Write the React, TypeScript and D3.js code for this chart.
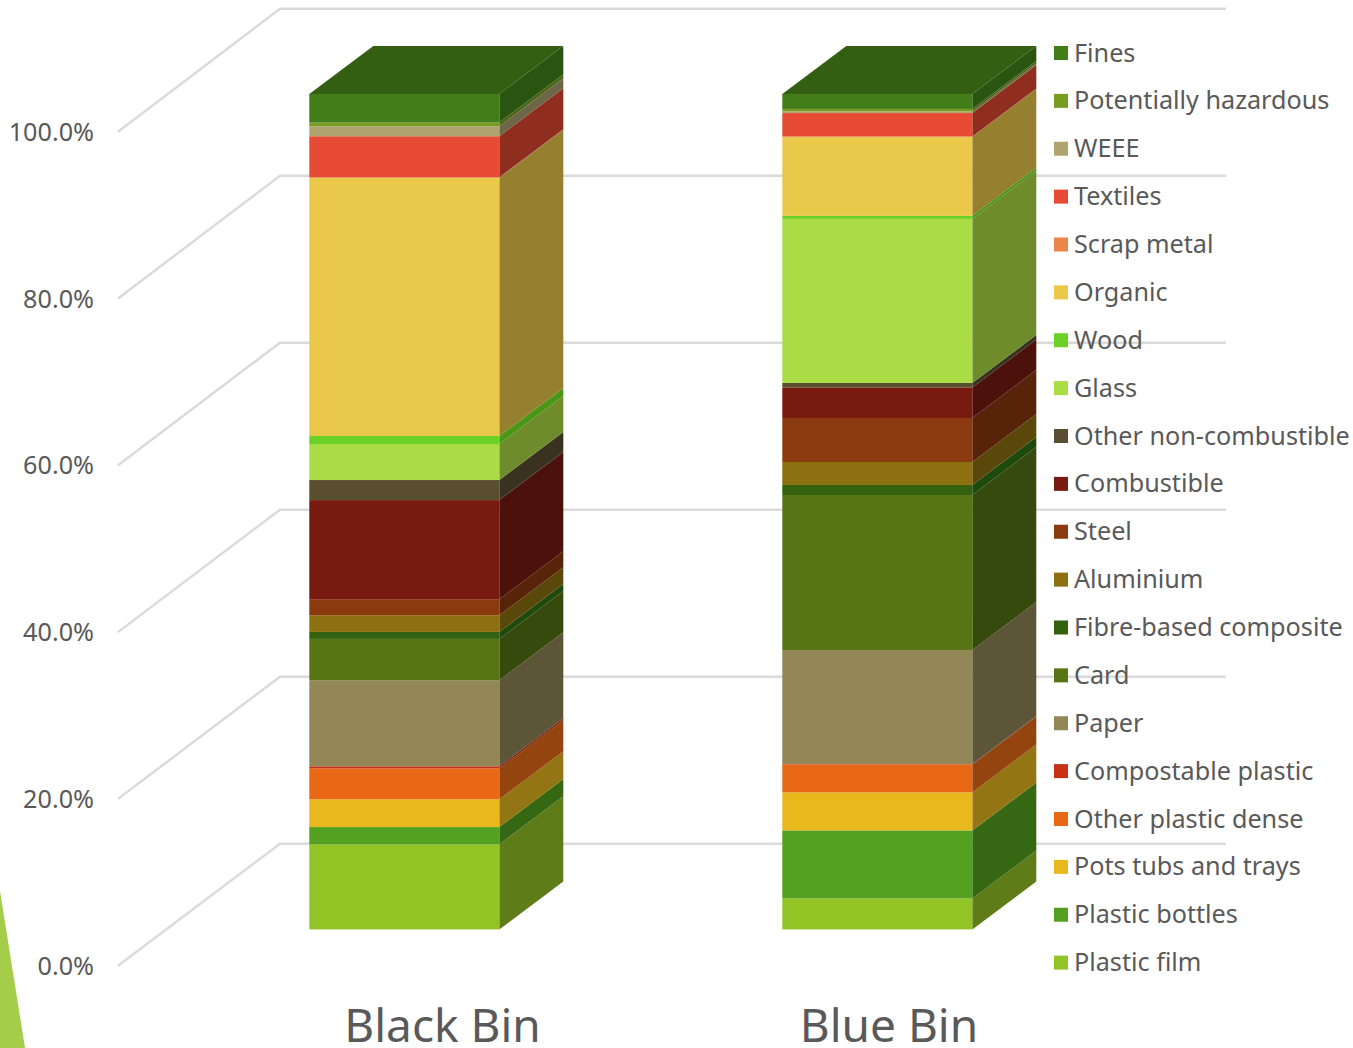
import React from "react";
import * as d3 from "d3";

const categories = ["Black Bin", "Blue Bin"];
const seriesNames = ["Plastic film","Plastic bottles","Pots tubs and trays","Other plastic dense","Compostable plastic","Paper","Card","Fibre-based composite","Aluminium","Steel","Combustible","Other non-combustible","Glass","Wood","Organic","Scrap metal","Textiles","WEEE","Potentially hazardous","Fines"];
const blackBin = [10.18,2.07,3.32,3.71,0.24,10.3,4.95,0.84,2.0,1.92,11.86,2.4,4.31,0.96,30.9,0.07,4.91,1.2,0.44,3.42];
const blueBin = [3.71,8.14,4.55,3.35,0.04,13.65,18.56,1.2,2.75,5.27,3.65,0.54,19.64,0.36,9.46,0.04,2.81,0.2,0.29,1.79];
const frontColors = ["#93C426","#54A021","#E8B81D","#E96816","#C93117","#938657","#587516","#34610F","#8D700F","#8B390E","#791A11","#5A4E31","#AADC45","#6BD126","#EAC84A","#EC854A","#E74B35","#AFA370","#779E20","#437D1A"];
const sideColors = ["#5E7C18","#366814","#947513","#94440E","#7F1F0E","#5D5538","#364A0D","#1F4A0E","#5A470A","#582409","#4C110A","#3A3220","#6E8C2C","#4A9718","#958030","#965530","#8F2E1F","#6D6748","#4C6414","#2A5510"];
const topColor = "#345F13";
const tickValues = [0, 20, 40, 60, 80, 100];

const FONT = "'Noto Sans', sans-serif";
const TEXT = "#595959";
const GRID = "#DADADA";
const BAR_W = 190;
const DX = 64, DY = -48;

export default function App() {
  const yFront = d3.scaleLinear().domain([0, 100]).range([929.4, 94]);
  const yBack = d3.scaleLinear().domain([0, 100]).range([843.7, 8.7]);
  const yLabel = d3.scaleLinear().domain([0, 100]).range([965.7, 131.7]);
  const xBar = d3.scaleOrdinal<string, number>().domain(categories).range([309.3, 782.3]);
  const xCat = d3.scaleOrdinal<string, number>().domain(categories).range([442.5, 889]);
  const legendY = d3.scaleLinear().domain([0, seriesNames.length - 1]).range([53, 962.6]);

  const rows = categories.map((c, i) => {
    const vals = i === 0 ? blackBin : blueBin;
    const o: Record<string, number | string> = { cat: c };
    seriesNames.forEach((s, j) => (o[s] = vals[j]));
    return o;
  });
  const stacked = d3.stack<any>().keys(seriesNames).offset(d3.stackOffsetExpand)(rows);
  const y = (v: number) => yFront(v * 100);

  return (
    <svg width={1353} height={1048} style={{ position: "absolute", left: 0, top: 0, display: "block" }} fontFamily={FONT}>
      <polygon points="0,891 25,1048 0,1048" fill="#A4CE4A" />
      {tickValues.map((t) => (
        <path key={t} d={`M118,${yLabel(t)}L280,${yBack(t)}L1226,${yBack(t)}`} fill="none" stroke={GRID} strokeWidth={2.4} />
      ))}
      {tickValues.map((t) => (
        <text key={t} x={94} y={yLabel(t)} dy="0.36em" textAnchor="end" fontSize={25.2} fill={TEXT}>{t.toFixed(1)}%</text>
      ))}
      {categories.map((c, ci) => {
        const x0 = xBar(c);
        const x1 = x0 + BAR_W;
        return (
          <g key={c}>
            {stacked.map((s, si) => {
              const yb = y(s[ci][0]);
              const yt = y(s[ci][1]);
              return (
                <g key={s.key}>
                  <polygon points={`${x1},${yb} ${x1 + DX},${yb + DY} ${x1 + DX},${yt + DY} ${x1},${yt}`} fill={sideColors[si]} />
                  <rect x={x0} y={yt} width={BAR_W} height={yb - yt} fill={frontColors[si]} />
                </g>
              );
            })}
            <polygon points={`${x0},${y(1)} ${x1},${y(1)} ${x1 + DX},${y(1) + DY} ${x0 + DX},${y(1) + DY}`} fill={topColor} />
            <text x={xCat(c)} y={1042} textAnchor="middle" fontSize={46} fill={TEXT}>{c}</text>
          </g>
        );
      })}
      {seriesNames.map((s, i) => {
        const ly = legendY(seriesNames.length - 1 - i);
        return (
          <g key={s}>
            <rect x={1054} y={ly - 7} width={14} height={14} fill={frontColors[i]} />
            <text x={1074} y={ly} dy="0.34em" fontSize={25.2} fill={TEXT}>{s}</text>
          </g>
        );
      })}
    </svg>
  );
}
